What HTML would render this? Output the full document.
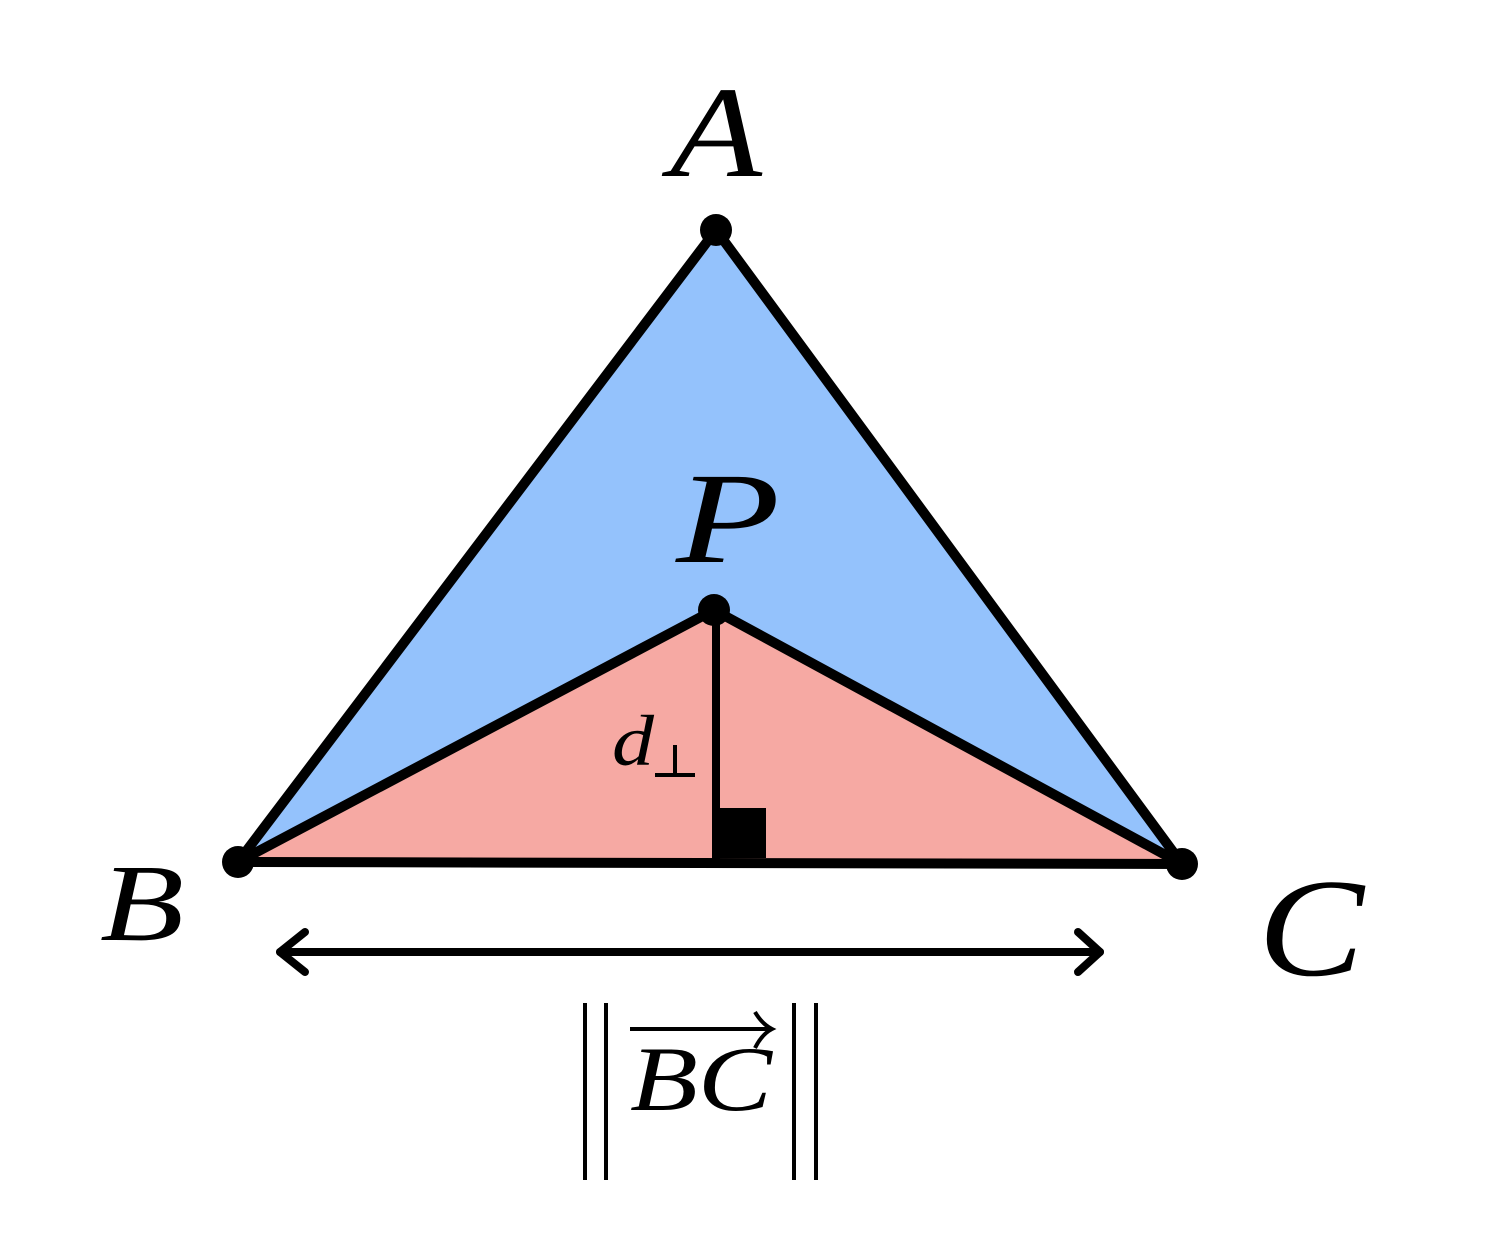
<!DOCTYPE html>
<html><head><style>html,body{margin:0;padding:0;background:#fff}</style></head>
<body>
<svg width="1508" height="1228" viewBox="0 0 1508 1228" xmlns="http://www.w3.org/2000/svg">
<polygon points="716,230 238,862 1182,864" fill="#94c2fc"/>
<polygon points="714,610 238,862 1182,864" fill="#f6a9a3"/>
<g stroke="#000" stroke-width="10" stroke-linejoin="round" stroke-linecap="round" fill="none">
<polygon points="716,230 238,862 1182,864"/>
<polyline points="238,862 714,610 1182,864"/>
<line x1="716" y1="610" x2="716" y2="860" stroke-width="8"/>
</g>
<rect x="716" y="808" width="50" height="50" fill="#000"/>
<g fill="#000">
<circle cx="716" cy="230" r="16"/><circle cx="714" cy="610" r="16"/>
<circle cx="238" cy="862" r="16"/><circle cx="1182" cy="864" r="16"/>
</g>
<g stroke="#000" stroke-width="8" fill="none" stroke-linecap="round" stroke-linejoin="round">
<line x1="280" y1="952" x2="1100" y2="952"/>
<polyline points="305,932 280,952 305,972"/>
<polyline points="1078,932 1100,952 1078,972"/>
</g>
<g font-family="'Liberation Serif',serif" font-style="italic" fill="#000">
<text x="670" y="176" font-size="130" textLength="92" lengthAdjust="spacingAndGlyphs">A</text>
<text x="676" y="562" font-size="130" textLength="104" lengthAdjust="spacingAndGlyphs">P</text>
<text x="100" y="940" font-size="110" textLength="84" lengthAdjust="spacingAndGlyphs">B</text>
<text x="1258" y="975" font-size="140" textLength="106" lengthAdjust="spacingAndGlyphs">C</text>
<text x="612" y="765" font-size="72" textLength="42" lengthAdjust="spacingAndGlyphs">d</text>
<text x="630" y="1110" font-size="92" textLength="142" lengthAdjust="spacingAndGlyphs">BC</text>
</g>
<g stroke="#000" stroke-width="4">
<line x1="655" y1="775" x2="695" y2="775"/><line x1="675" y1="775" x2="675" y2="745"/>
<line x1="585" y1="1003" x2="585" y2="1180"/><line x1="606" y1="1003" x2="606" y2="1180"/>
<line x1="794" y1="1003" x2="794" y2="1180"/><line x1="816" y1="1003" x2="816" y2="1180"/>
<line x1="630" y1="1029" x2="770" y2="1029"/>
</g>
<path d="M755,1012 Q762,1024 772,1029 Q762,1034 755,1048" stroke="#000" stroke-width="4" fill="none"/>
</svg>
</body></html>
